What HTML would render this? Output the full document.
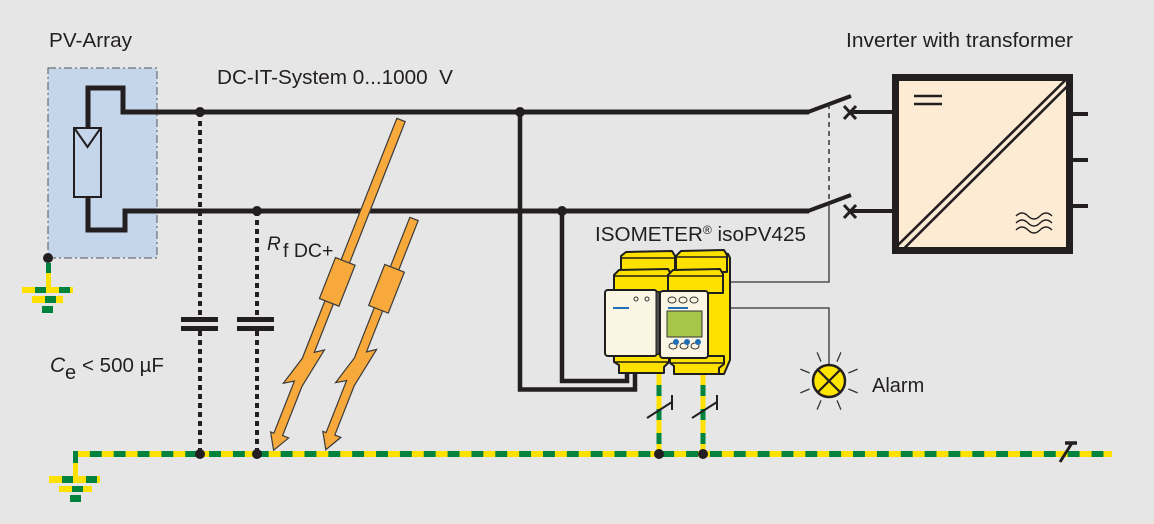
<!DOCTYPE html>
<html><head><meta charset="utf-8"><style>
html,body{margin:0;padding:0;background:#e6e6e6;}
svg{display:block;}
text{font-family:"Liberation Sans",Arial,sans-serif;fill:#231f20;}
</style></head><body>
<svg width="1154" height="524" viewBox="0 0 1154 524" xmlns="http://www.w3.org/2000/svg">
<rect width="1154" height="524" fill="#e6e6e6"/>

<!-- PV array -->
<rect x="48" y="68" width="109" height="190" fill="#c5d5ea" stroke="#555" stroke-width="1" stroke-dasharray="8 3 2 3"/>
<path d="M809 112 H123 V88 H88 V128" fill="none" stroke="#231f20" stroke-width="5"/>
<path d="M88 197 V230 H125 V211 H809" fill="none" stroke="#231f20" stroke-width="5"/>
<rect x="74" y="128" width="27" height="69" fill="none" stroke="#231f20" stroke-width="2"/>
<polyline points="75,129 87.5,147 100,129" fill="none" stroke="#231f20" stroke-width="2"/>

<!-- PV ground -->
<rect x="46" y="263" width="5" height="10" fill="#00843d"/>
<rect x="46" y="273" width="5" height="14" fill="#ffe100"/>
<rect x="22" y="287" width="51" height="6" fill="#ffe100"/>
<rect x="35" y="287" width="11" height="6" fill="#00843d"/>
<rect x="59" y="287" width="11" height="6" fill="#00843d"/>
<rect x="32" y="296" width="31" height="7" fill="#ffe100"/>
<rect x="45" y="296" width="11" height="7" fill="#00843d"/>
<rect x="42" y="306" width="11" height="7" fill="#00843d"/>

<!-- switches -->
<line x1="808" y1="112" x2="851" y2="96" stroke="#231f20" stroke-width="4"/>
<line x1="808" y1="211" x2="851" y2="195" stroke="#231f20" stroke-width="4"/>
<line x1="850" y1="112" x2="893" y2="112" stroke="#231f20" stroke-width="4"/>
<line x1="850" y1="211" x2="893" y2="211" stroke="#231f20" stroke-width="4"/>
<path d="M844 106 L856 119 M844 119 L856 106" stroke="#231f20" stroke-width="3"/>
<path d="M844 205 L856 218 M844 218 L856 205" stroke="#231f20" stroke-width="3"/>
<line x1="829" y1="104" x2="829" y2="203" stroke="#333" stroke-width="1.5" stroke-dasharray="5 4"/>
<polyline points="829,203 829,282 730,282" fill="none" stroke="#333" stroke-width="1.3"/>
<polyline points="730,308 829,308 829,366" fill="none" stroke="#333" stroke-width="1.3"/>

<!-- inverter -->
<rect x="895.5" y="77.5" width="174" height="173" fill="#fdebd4" stroke="#231f20" stroke-width="7"/>
<line x1="898" y1="245" x2="1065" y2="80.5" stroke="#231f20" stroke-width="2.6"/>
<line x1="903.5" y1="249" x2="1068" y2="85.5" stroke="#231f20" stroke-width="2.6"/>
<line x1="914" y1="96" x2="942" y2="96" stroke="#231f20" stroke-width="2.6"/>
<line x1="914" y1="104" x2="942" y2="104" stroke="#231f20" stroke-width="2.6"/>
<path d="M1016 216 q6 -6 12 0 t12 0 t12 0 M1016 223 q6 -6 12 0 t12 0 t12 0 M1016 230 q6 -6 12 0 t12 0 t12 0" fill="none" stroke="#231f20" stroke-width="1.4"/>
<path d="M1073 114 H1088 M1073 160 H1088 M1073 206 H1088" stroke="#231f20" stroke-width="4"/>

<!-- capacitors -->
<line x1="200" y1="112" x2="200" y2="318" stroke="#231f20" stroke-width="4" stroke-dasharray="5 4"/>
<line x1="200" y1="331" x2="200" y2="454" stroke="#231f20" stroke-width="4" stroke-dasharray="5 4"/>
<rect x="181" y="317" width="37" height="5" fill="#231f20"/>
<rect x="181" y="326" width="37" height="5" fill="#231f20"/>
<line x1="257" y1="211" x2="257" y2="318" stroke="#231f20" stroke-width="4" stroke-dasharray="5 4"/>
<line x1="257" y1="331" x2="257" y2="454" stroke="#231f20" stroke-width="4" stroke-dasharray="5 4"/>
<rect x="237" y="317" width="37" height="5" fill="#231f20"/>
<rect x="237" y="326" width="37" height="5" fill="#231f20"/>

<!-- loops to isometer -->
<path d="M520 112 V389.5 H635 V368" fill="none" stroke="#231f20" stroke-width="4.5"/>
<path d="M562 211 V381 H627 V368" fill="none" stroke="#231f20" stroke-width="4.5"/>

<!-- ground bus -->
<line x1="73" y1="454" x2="1112" y2="454" stroke="#ffe100" stroke-width="6"/>
<line x1="73" y1="454" x2="1112" y2="454" stroke="#00843d" stroke-width="6" stroke-dasharray="11.9 11.95" stroke-dashoffset="7"/>
<rect x="73" y="451" width="5" height="12" fill="#00843d"/>
<rect x="73" y="463" width="5" height="13" fill="#ffe100"/>
<rect x="49" y="476" width="51" height="7" fill="#ffe100"/>
<rect x="62" y="476" width="11" height="7" fill="#00843d"/>
<rect x="86" y="476" width="11" height="7" fill="#00843d"/>
<rect x="59" y="486" width="33" height="6" fill="#ffe100"/>
<rect x="72" y="486" width="11" height="6" fill="#00843d"/>
<rect x="70" y="495" width="11" height="7" fill="#00843d"/>
<line x1="1060" y1="462" x2="1072" y2="443" stroke="#231f20" stroke-width="3"/>
<line x1="1065" y1="443" x2="1077" y2="443" stroke="#231f20" stroke-width="3.5"/>

<!-- device ground wires -->
<line x1="659" y1="372" x2="659" y2="454" stroke="#ffe100" stroke-width="5"/>
<line x1="659" y1="372" x2="659" y2="454" stroke="#00843d" stroke-width="5" stroke-dasharray="11 13" stroke-dashoffset="11"/>
<line x1="703" y1="372" x2="703" y2="454" stroke="#ffe100" stroke-width="5"/>
<line x1="703" y1="372" x2="703" y2="454" stroke="#00843d" stroke-width="5" stroke-dasharray="11 13" stroke-dashoffset="11"/>
<path d="M647 418 L672 402 M672 395 V410 M692 418 L717 402 M717 395 V410" stroke="#231f20" stroke-width="2"/>

<!-- dots -->
<g fill="#231f20">
<circle cx="200" cy="112" r="5"/><circle cx="257" cy="211" r="5"/>
<circle cx="520" cy="112" r="5"/><circle cx="562" cy="211" r="5"/>
<circle cx="48" cy="258" r="5"/>
<circle cx="200" cy="454" r="5"/><circle cx="257" cy="454" r="5"/>
<circle cx="659" cy="454" r="5"/><circle cx="703" cy="454" r="5"/>
</g>

<!-- orange fault arrows -->
<g transform="translate(401,120) rotate(21.5)" fill="#f7a93b" stroke="#3a3a3a" stroke-width="1.2" stroke-linejoin="miter">
<path d="M-4.5 0 L4.5 0 L4.5 248 L13 242 L5.5 284 L5.5 337 L12 337 L2.5 354 L-7 338 L-3.5 338 L-3.5 282 L-13 288 L-4.5 258 Z"/>
<rect x="-10.5" y="152" width="21" height="44"/>
</g>
<g transform="translate(414,219) rotate(21.5)" fill="#f7a93b" stroke="#3a3a3a" stroke-width="1.2" stroke-linejoin="miter">
<path d="M-4.5 0 L4.5 0 L4.5 141 L13 135 L5.5 177 L5.5 230 L12 230 L2.5 247 L-7 231 L-3.5 231 L-3.5 175 L-13 181 L-4.5 151 Z"/>
<rect x="-10.5" y="53" width="21" height="44"/>
</g>

<!-- lamp -->
<circle cx="829" cy="381" r="16" fill="#ffe600" stroke="#231f20" stroke-width="2.5"/>
<path d="M818 370 L840 392 M840 370 L818 392" stroke="#231f20" stroke-width="2.2"/>
<path d="M848.4 389 L857.6 392.9 M837 400.4 L840.9 409.6 M821 400.4 L817.1 409.6 M809.6 389 L800.4 392.9 M809.6 373 L800.4 369.1 M821 361.6 L817.1 352.4 M837 361.6 L840.9 352.4 M848.4 373 L857.6 369.1" stroke="#333" stroke-width="1.3"/>

<!-- ISOMETER device -->
<g stroke="#1e1e1e" stroke-width="2" stroke-linejoin="round">
<polygon points="706,262 722,252 728,254 730,258 730,360 724,374 700,374 700,300" fill="#ffe100"/>
<!-- left module -->
<polygon points="621,272 621,256 626,252 672,251 675,256 675,272" fill="#ffe100"/>
<line x1="621" y1="258" x2="675" y2="258" stroke-width="1.5"/>
<polygon points="614,292 614,275 619,270 668,269 671,274 671,292" fill="#ffe100"/>
<line x1="614" y1="276" x2="671" y2="276" stroke-width="1.5"/>
<polygon points="614,354 669,354 669,362 664,367 664,373 619,373 619,365 614,362" fill="#ffe100"/>
<line x1="614" y1="362" x2="669" y2="362" stroke-width="1.5"/>
<rect x="605" y="290" width="52" height="66" rx="3" fill="#fbf6e4"/>
<rect x="656" y="292" width="5" height="62" fill="#4a4a4a" stroke-width="1"/>
<!-- right module -->
<polygon points="676,272 676,256 681,251 724,250 727,255 727,272" fill="#ffe100"/>
<line x1="676" y1="257" x2="727" y2="257" stroke-width="1.5"/>
<polygon points="668,293 668,275 673,270 720,269 723,274 723,293" fill="#ffe100"/>
<line x1="668" y1="276" x2="723" y2="276" stroke-width="1.5"/>
<polygon points="670,356 724,356 724,364 719,368 719,374 674,374 674,366 670,363" fill="#ffe100"/>
<line x1="670" y1="363" x2="724" y2="363" stroke-width="1.5"/>
<rect x="660" y="291" width="48" height="67" rx="3" fill="#fbf6e4"/>
</g>
<rect x="667" y="311" width="35" height="26" fill="#a6c64a" stroke="#333" stroke-width="1"/>
<g fill="none" stroke="#333" stroke-width="1">
<ellipse cx="672" cy="300" rx="4" ry="3"/><ellipse cx="683" cy="300" rx="4" ry="3"/><ellipse cx="694" cy="300" rx="4" ry="3"/>
<ellipse cx="673" cy="346" rx="4" ry="3"/><ellipse cx="684" cy="346" rx="4" ry="3"/><ellipse cx="695" cy="346" rx="4" ry="3"/>
<circle cx="636" cy="299" r="2"/><circle cx="647" cy="299" r="2"/>
</g>
<g fill="#1f6fb8">
<circle cx="676" cy="342" r="3"/><circle cx="687" cy="342" r="3"/><circle cx="698" cy="342" r="3"/>
<rect x="668" y="307" width="20" height="2"/>
<rect x="613" y="307" width="16" height="2"/>
</g>

<!-- texts -->
<text x="49" y="47" font-size="20" textLength="83" lengthAdjust="spacingAndGlyphs">PV-Array</text>
<text x="217" y="84" font-size="20" textLength="236" lengthAdjust="spacingAndGlyphs" xml:space="preserve">DC-IT-System 0...1000  V</text>
<text x="846" y="47" font-size="20" textLength="227" lengthAdjust="spacingAndGlyphs">Inverter with transformer</text>
<text x="595" y="241" font-size="20.5" textLength="211" lengthAdjust="spacingAndGlyphs">ISOMETER<tspan font-size="12" dy="-7">®</tspan><tspan dy="7"> isoPV425</tspan></text>
<text x="872" y="392" font-size="20">Alarm</text>
<text x="267" y="250" font-size="19" font-style="italic">R</text>
<text x="283" y="257" font-size="19.5">f DC+</text>
<text x="50" y="372" font-size="21" font-style="italic">C</text>
<text x="65" y="379" font-size="20">e</text>
<text x="82" y="372" font-size="20.5">&lt; 500 µF</text>
</svg>
</body></html>
